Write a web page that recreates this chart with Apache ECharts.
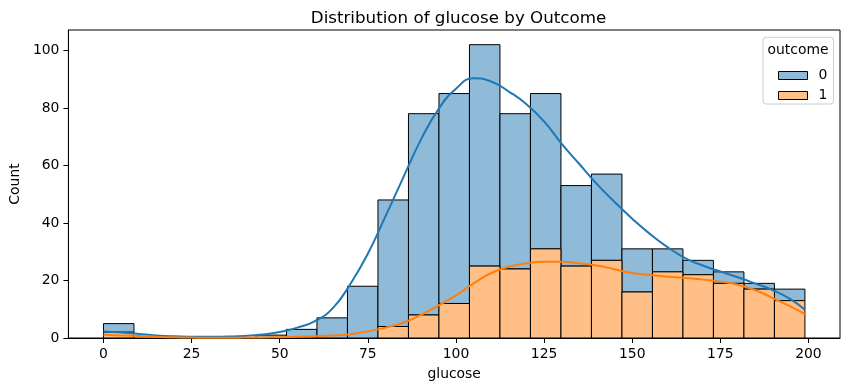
<!DOCTYPE html>
<html>
<head>
<meta charset="utf-8">
<script src="https://cdn.jsdelivr.net/npm/echarts@6/dist/echarts.min.js"></script>
<style>html,body{margin:0;padding:0;background:#fff}#c{width:850px;height:391px}</style>
</head>
<body>
<div id="c"></div>
<script>
// Histogram: 23 bins spanning glucose 0..199
const binLow = 0;
const binHigh = 199;
const binCount = 23;
const counts0 = [3,0,0,0,0,1,3,7,18,44,70,73,77,54,54,28,30,15,8,5,4,2,4];
const counts1 = [2,0,0,0,0,0,0,0,0,4,8,12,25,24,31,25,27,16,23,22,19,17,13];
// KDE curves (stacked)
const kdeX = [0,5,10,15,20,25,30,35,40,45,50,55,60,65,70,75,80,85,90,95,100,105,110,115,120,125,130,135,140,145,150,155,160,165,170,175,180,185,190,195,199];
const kdeTotal = [2.3,1.9,1.4,0.9,0.6,0.45,0.4,0.5,0.7,1.2,2.1,3.6,5.9,10.3,18.7,29.3,42.3,55.7,68.8,79.5,86.7,90.3,89.2,85.7,81.3,75.3,67.5,60.5,53.5,47.3,41.5,36.2,31.6,27.8,25.2,23.1,21.1,18.9,16.6,13.4,9.8];
const kdeOutcome1 = [1.1,0.9,0.7,0.45,0.25,0.15,0.1,0.1,0.15,0.2,0.3,0.45,0.65,0.9,1.3,2.3,3.6,5.3,8,11.3,14.8,19,22.6,24.8,26,26.5,26.5,26,25.2,23.9,22.6,21.9,21.3,20.9,20.3,19.6,18.5,16.6,13.8,10.9,8.3];
const xTicks = [0,25,50,75,100,125,150,175,200];
const yTicks = [0,20,40,60,80,100];
const seriesNames = ['0','1'];

const w = (binHigh - binLow) / binCount;
const bars1 = [], bars0 = [];
for (let i = 0; i < binCount; i++) {
  const x0 = binLow + i * w, x1 = x0 + w;
  if (counts1[i] > 0) bars1.push([x0, x1, 0, counts1[i]]);
  if (counts0[i] > 0) bars0.push([x0, x1, counts1[i], counts1[i] + counts0[i]]);
}
function renderBar(params, api) {
  const p0 = api.coord([api.value(0), api.value(3)]);
  const p1 = api.coord([api.value(1), api.value(2)]);
  return {
    type: 'rect',
    shape: { x: p0[0], y: p0[1], width: p1[0] - p0[0], height: p1[1] - p0[1] },
    style: api.style({ stroke: '#000', lineWidth: 1 })
  };
}
const blueFill = '#8fbbd9', orangeFill = '#ffbf86';
const font = 'DejaVu Sans';
const fs = 13.9;
const chart = echarts.init(document.getElementById('c'), null, { renderer: 'canvas' });
chart.setOption({
  animation: false,
  backgroundColor: '#fff',
  textStyle: { fontFamily: font, color: '#000' },
  title: {
    text: 'Distribution of glucose by Outcome',
    left: 453.5, textAlign: 'center', top: 5,
    textStyle: { fontFamily: font, fontSize: 16.7, fontWeight: 'normal', color: '#000' }
  },
  grid: { left: 67, right: 10, top: 30, bottom: 53, show: true, borderColor: '#000', borderWidth: 1, backgroundColor: 'transparent' },
  legend: {
    data: seriesNames, z: 20,
    orient: 'vertical', left: 773, top: 63.5,
    itemWidth: 29, itemHeight: 8, itemGap: 6,
    icon: 'rect',
    itemStyle: { borderColor: '#000', borderWidth: 1 },
    textStyle: { fontFamily: font, fontSize: fs, color: '#000', lineHeight: 14, padding: [0,0,0,6] }
  },
  graphic: [
    { type: 'rect', z: 5,
      shape: { x: 763, y: 37.3, width: 70.5, height: 66.7, r: 3 },
      style: { fill: 'rgba(255,255,255,0.8)', stroke: '#cccccc', lineWidth: 1 } },
    { type: 'text', x: 798, y: 50, z: 6,
      style: { text: 'outcome', fontFamily: font, fontSize: fs, fill: '#000', align: 'center', verticalAlign: 'middle' } }
  ],
  xAxis: {
    type: 'value', min: -9.95, max: 208.95,
    name: 'glucose', nameLocation: 'middle', nameGap: 29,
    nameTextStyle: { fontFamily: font, fontSize: fs, color: '#000' },
    axisLine: { show: true, onZero: false, lineStyle: { color: '#000', width: 1 } },
    axisTick: { show: true, length: 5, customValues: xTicks, lineStyle: { color: '#000' } },
    axisLabel: { customValues: xTicks, margin: 9, fontFamily: font, fontSize: fs, color: '#000' },
    splitLine: { show: false }
  },
  yAxis: {
    type: 'value', min: 0, max: 107.1,
    name: 'Count', nameLocation: 'middle', nameGap: 43,
    nameTextStyle: { fontFamily: font, fontSize: fs, color: '#000' },
    axisLine: { show: true, onZero: false, lineStyle: { color: '#000', width: 1 } },
    axisTick: { show: true, length: 5, customValues: yTicks, lineStyle: { color: '#000' } },
    axisLabel: { customValues: yTicks, margin: 9, fontFamily: font, fontSize: fs, color: '#000' },
    splitLine: { show: false }
  },
  series: [
    { name: '0', type: 'custom', renderItem: renderBar, data: bars0,
      encode: { x: [0, 1], y: [2, 3] }, itemStyle: { color: blueFill, borderColor: '#000', borderWidth: 1 }, z: 2 },
    { name: '1', type: 'custom', renderItem: renderBar, data: bars1,
      encode: { x: [0, 1], y: [2, 3] }, itemStyle: { color: orangeFill, borderColor: '#000', borderWidth: 1 }, z: 2 },
    { name: 'kde0', type: 'line', data: kdeX.map((x, i) => [x, kdeTotal[i]]), smooth: 0.5, symbol: 'none',
      lineStyle: { color: '#1f77b4', width: 2 }, itemStyle: { color: '#1f77b4' }, z: 3 },
    { name: 'kde1', type: 'line', data: kdeX.map((x, i) => [x, kdeOutcome1[i]]), smooth: 0.5, symbol: 'none',
      lineStyle: { color: '#ff7f0e', width: 2 }, itemStyle: { color: '#ff7f0e' }, z: 3 }
  ]
});
</script>
</body>
</html>
